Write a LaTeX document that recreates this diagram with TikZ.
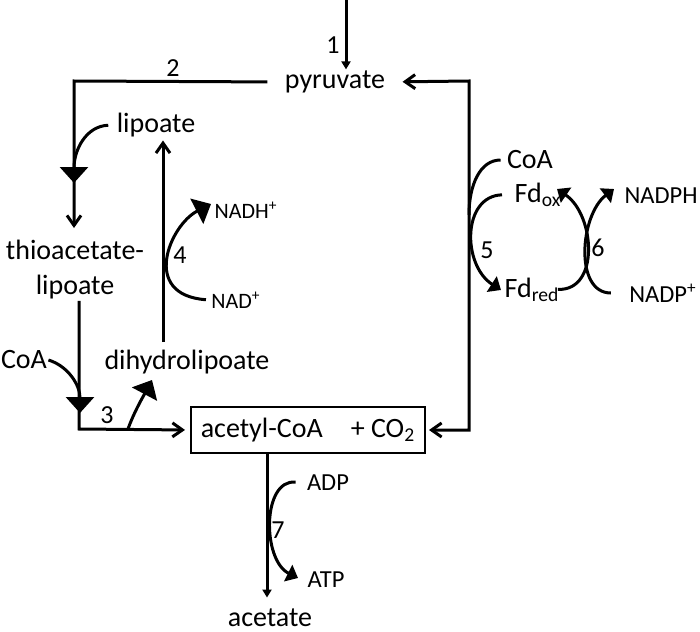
\documentclass[tikz,border=0pt]{standalone}
\usepackage{fontspec}
\setmainfont{Carlito}
\usetikzlibrary{arrows.meta}
\begin{document}
\begin{tikzpicture}[x=0.5pt,y=-0.5pt,line width=1.5pt,every node/.style={inner sep=0pt},
    txtL/.style={font=\fontsize{14}{17.5}\selectfont},txtM/.style={font=\fontsize{12.25}{14}\selectfont},
    txtS/.style={font=\fontsize{11}{13}\selectfont},txtN/.style={font=\fontsize{13}{15}\selectfont},
    barbtip/.style={-{Straight Barb[length=5pt,width=7pt]}},tipS/.style={-{Triangle[length=4pt,width=4.5pt]}},
    tipL/.style={-{Triangle[length=8pt,width=14pt]}},tipM/.style={-{Triangle[length=5.5pt,width=9pt]}}]
    \useasboundingbox (0,0) rectangle (700,631);
    %Các chất
    \node[txtL] (pyr) at (335,82) {pyruvate};
    \node[txtL] (lip) at (156,125) {lipoate};
    \node[txtL,align=center] (tal) at (75,270) {thioacetate-\\lipoate};
    \node[txtL] (dhl) at (187,362) {dihydrolipoate};
    \node[txtL] (coaL) at (24,360) {CoA};
    \node[txtS] (nadh) at (246,210) {NADH\textsuperscript{+}};
    \node[txtS] (nad) at (236,300) {NAD\textsuperscript{+}};
    \node[txtL,draw,line width=1pt,minimum width=117pt,minimum height=23pt] (acc) at (308,430) {acetyl-CoA\hspace{14pt}+ CO\textsubscript{2}};
    \node[txtL] (ace) at (270,618) {acetate};
    \node[txtM] (adp) at (328,483) {ADP};
    \node[txtM] (atp) at (326,580) {ATP};
    \node[txtL] (coaR) at (530,160) {CoA};
    \node[txtL,anchor=base west] (fdox) at (513,202) {Fd\textsubscript{ox}};
    \node[txtL,anchor=base west] (fdred) at (503,297) {Fd\textsubscript{red}};
    \node[txtM] (nadph) at (661,196) {NADPH};
    \node[txtM] (nadp) at (663,293) {NADP\textsuperscript{+}};
    %Số phản ứng
    \foreach \n/\x/\y in {1/333/45,2/173/68,3/107/415,4/180/255,5/487/250,6/598/248,7/278/530}
        \node[txtN] (n\n) at (\x,\y) {\n};
    %Điểm nối
    \coordinate (top) at (346,0);
    \coordinate (c2) at (74,81);
    \coordinate (c5) at (469,81);
    \coordinate (c5b) at (469,430);
    \coordinate (c3) at (79,429);
    \coordinate (up4) at (163,342);
    \coordinate (c7) at (267,453);
    \coordinate (h2) at (74,183);
    \coordinate (h3) at (80,413);
    \coordinate (j3) at (128,429);
    \coordinate (h3b) at (152,380);
    \coordinate (h4) at (211,204);
    \coordinate (j5) at (469,215);
    \coordinate (h5) at (501,290);
    \coordinate (h6a) at (557,189);
    \coordinate (h6b) at (614,189);
    \coordinate (h7) at (298,578);
    %Mũi tên chính
    \draw[tipS] (top) -- (top |- pyr.north);
    \draw[barbtip,shorten <=8pt,shorten >=5.5pt] (pyr.west) -- (c2) -- (c2 |- tal.north);
    \draw[{Straight Barb[length=5pt,width=7pt]}-{Straight Barb[length=5pt,width=7pt]},shorten <=8pt,shorten >=1.5pt] (pyr.east) -- (c5) -- (c5b) -- (acc.east);
    \draw[barbtip,shorten >=2.5pt] (tal.south -| c3) -- (c3) -- (acc.west);
    \draw[barbtip,shorten >=1pt] (up4) -- (up4 |- lip.south);
    \draw[tipS,shorten >=5pt] (c7) -- (c7 |- ace.north);
    %Mũi tên cong
    \draw[tipL,shorten <=3.5pt] (lip.west) .. controls (86,126) and (74,150) .. (h2);
    \draw[tipL] (coaL.east) .. controls (68,366) and (80,385) .. (h3);
    \draw[tipL] (j3) .. controls (134,412) and (144,395) .. (h3b);
    \draw[tipL,shorten <=2pt] (nad.west) .. controls (140,295) and (170,225) .. (h4);
    \draw[shorten <=2.5pt] (coaR.west) .. controls (480,160) and (469,185) .. (j5);
    \draw[tipM,shorten <=5.5pt] (fdox.west) .. controls (462,196) and (462,265) .. (h5);
    \draw[tipM,shorten <=-1.5pt] (fdred.east) .. controls (600,291) and (595,215) .. (h6a);
    \draw[tipM,shorten <=8.5pt] (nadp.west) .. controls (574,293) and (580,215) .. (h6b);
    \draw[tipM,shorten <=5pt] (adp.west) .. controls (262,479) and (262,560) .. (h7);
\end{tikzpicture}
\end{document}
